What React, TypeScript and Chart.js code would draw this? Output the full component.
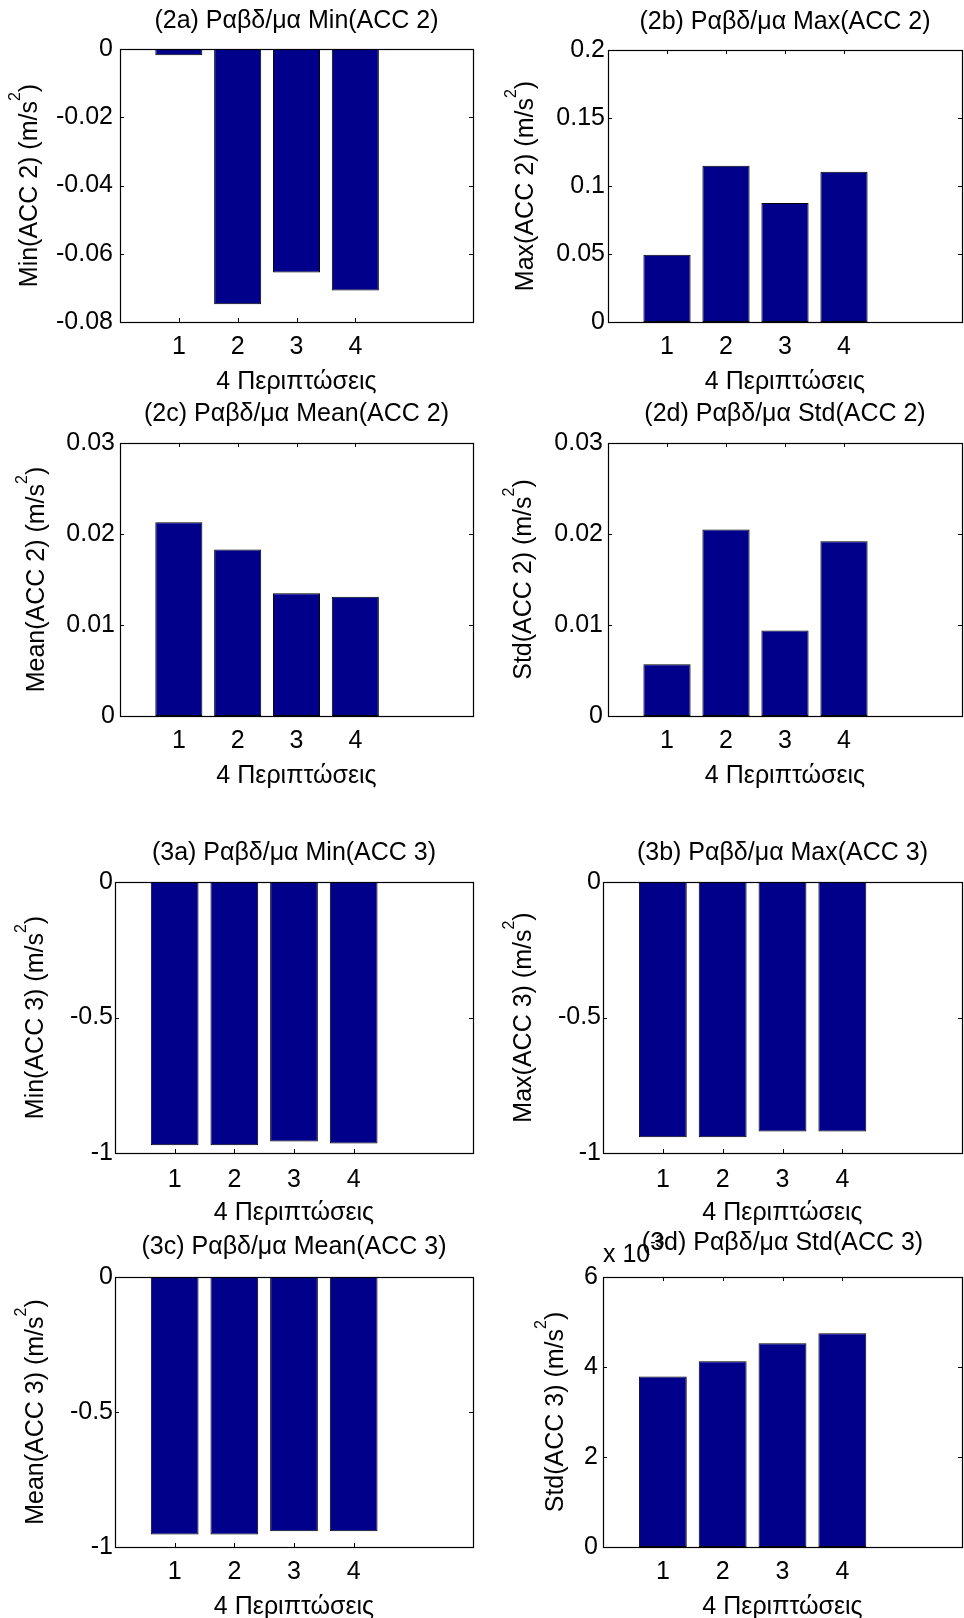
import React, { useEffect, useRef } from 'react';
import { Chart, registerables } from 'chart.js';

Chart.register(...registerables);

// ---------------- data ----------------
const CASES = [1, 2, 3, 4];
const X_TICKS = [1, 2, 3, 4];
const X_TITLE = '4 Περιπτώσεις';

const MIN_ACC2 = [-0.0018, -0.0748, -0.0655, -0.0708];
const MAX_ACC2 = [0.0495, 0.1149, 0.0875, 0.1105];
const MEAN_ACC2 = [0.0213, 0.0183, 0.0135, 0.0131];
const STD_ACC2 = [0.0057, 0.0205, 0.0094, 0.0192];
const MIN_ACC3 = [-0.971, -0.971, -0.958, -0.965];
const MAX_ACC3 = [-0.942, -0.942, -0.921, -0.921];
const MEAN_ACC3 = [-0.954, -0.954, -0.942, -0.942];
const STD_ACC3 = [0.00379, 0.00413, 0.00453, 0.00475];

const TICKS_MIN_ACC2 = [-0.08, -0.06, -0.04, -0.02, 0];
const LABELS_MIN_ACC2 = ['-0.08', '-0.06', '-0.04', '-0.02', '0'];
const TICKS_MAX_ACC2 = [0, 0.05, 0.1, 0.15, 0.2];
const LABELS_MAX_ACC2 = ['0', '0.05', '0.1', '0.15', '0.2'];
const TICKS_SMALL_ACC2 = [0, 0.01, 0.02, 0.03];
const LABELS_SMALL_ACC2 = ['0', '0.01', '0.02', '0.03'];
const TICKS_NEG_ACC3 = [-1, -0.5, 0];
const LABELS_NEG_ACC3 = ['-1', '-0.5', '0'];
const TICKS_STD_ACC3 = [0, 0.002, 0.004, 0.006];
const LABELS_STD_ACC3 = ['0', '2', '4', '6'];

const TITLES = [
  '(2a) Ραβδ/μα Min(ACC 2)',
  '(2b) Ραβδ/μα Max(ACC 2)',
  '(2c) Ραβδ/μα Mean(ACC 2)',
  '(2d) Ραβδ/μα Std(ACC 2)',
  '(3a) Ραβδ/μα Min(ACC 3)',
  '(3b) Ραβδ/μα Max(ACC 3)',
  '(3c) Ραβδ/μα Mean(ACC 3)',
  '(3d) Ραβδ/μα Std(ACC 3)',
];
// y labels: "<main>" + superscript "2" + ")"
const Y_TITLES = [
  'Min(ACC 2) (m/s',
  'Max(ACC 2) (m/s',
  'Mean(ACC 2) (m/s',
  'Std(ACC 2) (m/s',
  'Min(ACC 3) (m/s',
  'Max(ACC 3) (m/s',
  'Mean(ACC 3) (m/s',
  'Std(ACC 3) (m/s',
];
const Y_TITLE_SUP = '2';
const Y_TITLE_TAIL = ')';

// ---------------- style / layout ----------------
const FAMILY = "'Liberation Sans', Arial, Helvetica, sans-serif";
const FS = 25;
const SUP_FS = 16;
const BAR_COLOR = '#00008B';

type Panel = {
  values: number[];
  ticks: number[];
  labels: string[];
  title: string;
  yTitle: string;
  box: { l: number; r: number; t: number; b: number };
  col: 0 | 1;
  titleOff: number;
  yTitleX: number;
  yTickPad: number;
  xTickPad: number;
  exponent?: { base: string; sup: string };
};

const PANELS: Panel[] = [
  { values: MIN_ACC2, ticks: TICKS_MIN_ACC2, labels: LABELS_MIN_ACC2, title: TITLES[0], yTitle: Y_TITLES[0], box: { l: 120, r: 473, t: 49, b: 322 }, col: 0, titleOff: 28, yTitleX: 28.5, yTickPad: 7, xTickPad: 10 },
  { values: MAX_ACC2, ticks: TICKS_MAX_ACC2, labels: LABELS_MAX_ACC2, title: TITLES[1], yTitle: Y_TITLES[1], box: { l: 608, r: 962, t: 50, b: 322 }, col: 1, titleOff: 28, yTitleX: 34, yTickPad: 3, xTickPad: 10 },
  { values: MEAN_ACC2, ticks: TICKS_SMALL_ACC2, labels: LABELS_SMALL_ACC2, title: TITLES[2], yTitle: Y_TITLES[2], box: { l: 120, r: 473, t: 443, b: 716 }, col: 0, titleOff: 28.5, yTitleX: 35, yTickPad: 5, xTickPad: 10 },
  { values: STD_ACC2, ticks: TICKS_SMALL_ACC2, labels: LABELS_SMALL_ACC2, title: TITLES[3], yTitle: Y_TITLES[3], box: { l: 608, r: 962, t: 443, b: 716 }, col: 1, titleOff: 28.5, yTitleX: 32.5, yTickPad: 5, xTickPad: 10 },
  { values: MIN_ACC3, ticks: TICKS_NEG_ACC3, labels: LABELS_NEG_ACC3, title: TITLES[4], yTitle: Y_TITLES[4], box: { l: 115, r: 473, t: 882, b: 1153 }, col: 0, titleOff: 28.5, yTitleX: 34, yTickPad: 2, xTickPad: 12 },
  { values: MAX_ACC3, ticks: TICKS_NEG_ACC3, labels: LABELS_NEG_ACC3, title: TITLES[5], yTitle: Y_TITLES[5], box: { l: 603, r: 962, t: 882, b: 1153 }, col: 1, titleOff: 29, yTitleX: 32.5, yTickPad: 2, xTickPad: 12 },
  { values: MEAN_ACC3, ticks: TICKS_NEG_ACC3, labels: LABELS_NEG_ACC3, title: TITLES[6], yTitle: Y_TITLES[6], box: { l: 115, r: 473, t: 1277, b: 1547 }, col: 0, titleOff: 30, yTitleX: 34, yTickPad: 2, xTickPad: 10 },
  { values: STD_ACC3, ticks: TICKS_STD_ACC3, labels: LABELS_STD_ACC3, title: TITLES[7], yTitle: Y_TITLES[7], box: { l: 603, r: 962, t: 1277, b: 1547 }, col: 1, titleOff: 34, yTitleX: 64, yTickPad: 5, xTickPad: 10, exponent: { base: 'x 10', sup: '-3' } },
];

const TOP_SPACE = 48;
const BOTTOM_SPACE = 80;

const framePlugin = {
  id: 'matlabFrame',
  beforeDatasetsDraw(chart: any) {
    const { ctx, chartArea: a, scales } = chart;
    const x = scales.x;
    const y = scales.y;
    const TL = 4;
    ctx.save();
    ctx.strokeStyle = '#000';
    ctx.lineWidth = 1;
    ctx.beginPath();
    y.ticks.forEach((t: any) => {
      const py = Math.round(y.getPixelForValue(t.value)) + 0.5;
      ctx.moveTo(a.left, py);
      ctx.lineTo(a.left + TL, py);
      ctx.moveTo(a.right, py);
      ctx.lineTo(a.right - TL, py);
    });
    x.ticks.forEach((t: any) => {
      const px = Math.round(x.getPixelForValue(t.value)) + 0.5;
      ctx.moveTo(px, a.bottom);
      ctx.lineTo(px, a.bottom - TL);
      ctx.moveTo(px, a.top);
      ctx.lineTo(px, a.top + TL);
    });
    ctx.stroke();
    ctx.restore();
  },
  afterDatasetsDraw(chart: any) {
    const { ctx, chartArea: a } = chart;
    ctx.save();
    ctx.strokeStyle = '#000';
    ctx.lineWidth = 1.2;
    ctx.strokeRect(a.left + 0.5, a.top + 0.5, a.right - a.left, a.bottom - a.top);
    ctx.restore();
  },
  afterDraw(chart: any, _args: any, opts: any) {
    const { ctx, chartArea: a } = chart;
    const mainFont = `${FS}px ${FAMILY}`;
    const supFont = `${SUP_FS}px ${FAMILY}`;
    ctx.save();
    ctx.fillStyle = '#000';
    // title
    ctx.font = mainFont;
    ctx.textAlign = 'center';
    ctx.textBaseline = 'middle';
    ctx.fillText(opts.title, (a.left + a.right) / 2, a.top - opts.titleOff);

    // y label with superscript
    ctx.save();
    ctx.translate(opts.yTitleX, (a.top + a.bottom) / 2);
    ctx.rotate(-Math.PI / 2);
    ctx.textAlign = 'left';
    ctx.textBaseline = 'alphabetic';
    ctx.font = mainFont;
    const w1 = ctx.measureText(opts.yTitle).width;
    const w3 = ctx.measureText(Y_TITLE_TAIL).width;
    ctx.font = supFont;
    const w2 = ctx.measureText(Y_TITLE_SUP).width;
    const x0 = -(w1 + w2 + w3) / 2;
    const base = FS * 0.35;
    ctx.font = mainFont;
    ctx.fillText(opts.yTitle, x0, base);
    ctx.fillText(Y_TITLE_TAIL, x0 + w1 + w2, base);
    ctx.font = supFont;
    ctx.fillText(Y_TITLE_SUP, x0 + w1, base - 17);
    ctx.restore();

    // exponent
    if (opts.exponent) {
      ctx.font = mainFont;
      ctx.textAlign = 'left';
      ctx.textBaseline = 'alphabetic';
      ctx.fillText(opts.exponent.base, a.left, a.top - 15);
      const w = ctx.measureText(opts.exponent.base).width;
      ctx.font = supFont;
      ctx.fillText(opts.exponent.sup, a.left + w, a.top - 30);
    }
    ctx.restore();
  },
};

function PanelChart({ p }: { p: Panel }) {
  const ref = useRef<HTMLCanvasElement>(null);
  const L = p.col === 0 ? 0 : 490;
  const R = p.col === 0 ? 484 : 964;
  const T = p.box.t - TOP_SPACE;
  const B = p.box.b + BOTTOM_SPACE;
  const W = R - L;
  const H = B - T;

  useEffect(() => {
    if (!ref.current) return;
    const font = { family: FAMILY, size: FS };
    const chart = new Chart(ref.current, {
      type: 'bar',
      data: {
        datasets: [
          {
            data: CASES.map((c, i) => ({ x: c, y: p.values[i] })),
            backgroundColor: BAR_COLOR,
            borderColor: '#000',
            borderWidth: 1,
            borderSkipped: false,
            barPercentage: 0.8,
            categoryPercentage: 1,
          } as any,
        ],
      },
      options: {
        animation: false,
        responsive: false,
        maintainAspectRatio: false,
        devicePixelRatio: 1,
        events: [],
        layout: { padding: { left: 0, top: TOP_SPACE, right: R - p.box.r, bottom: 0 } },
        plugins: {
          legend: { display: false },
          tooltip: { enabled: false },
          title: { display: false },
          matlabFrame: { title: p.title, titleOff: p.titleOff, yTitle: p.yTitle, yTitleX: p.yTitleX, exponent: p.exponent },
        } as any,
        scales: {
          x: {
            type: 'linear',
            min: 0,
            max: 6,
            offset: false,
            grid: { display: false, drawTicks: false },
            border: { display: false },
            afterBuildTicks: (s: any) => {
              s.ticks = X_TICKS.map((v) => ({ value: v }));
            },
            ticks: {
              autoSkip: false,
              maxRotation: 0,
              padding: p.xTickPad,
              color: '#000',
              font,
              callback: (v: any) => String(v),
            },
            title: { display: true, text: X_TITLE, color: '#000', font, padding: { top: 0, bottom: 4.5 } },
            afterFit: (s: any) => {
              s.height = BOTTOM_SPACE;
            },
          },
          y: {
            type: 'linear',
            min: p.ticks[0],
            max: p.ticks[p.ticks.length - 1],
            grid: { display: false, drawTicks: false },
            border: { display: false },
            afterBuildTicks: (s: any) => {
              s.ticks = p.ticks.map((v) => ({ value: v }));
            },
            ticks: {
              autoSkip: false,
              padding: p.yTickPad,
              color: '#000',
              font,
              callback: (_v: any, i: number) => p.labels[i],
            },
            title: { display: false },
            afterFit: (s: any) => {
              s.width = p.box.l - L;
            },
          },
        } as any,
      },
      plugins: [framePlugin as any],
    });
    return () => chart.destroy();
  }, []);

  return (
    <canvas
      ref={ref}
      width={W}
      height={H}
      style={{ position: 'absolute', left: L, top: T, width: W, height: H, display: 'block' }}
    />
  );
}

export default function App() {
  return (
    <div
      style={{
        position: 'absolute',
        left: 0,
        top: 0,
        width: 964,
        height: 1618,
        overflow: 'hidden',
        background: '#fff',
      }}
    >
      {PANELS.map((p, i) => (
        <PanelChart key={i} p={p} />
      ))}
    </div>
  );
}
